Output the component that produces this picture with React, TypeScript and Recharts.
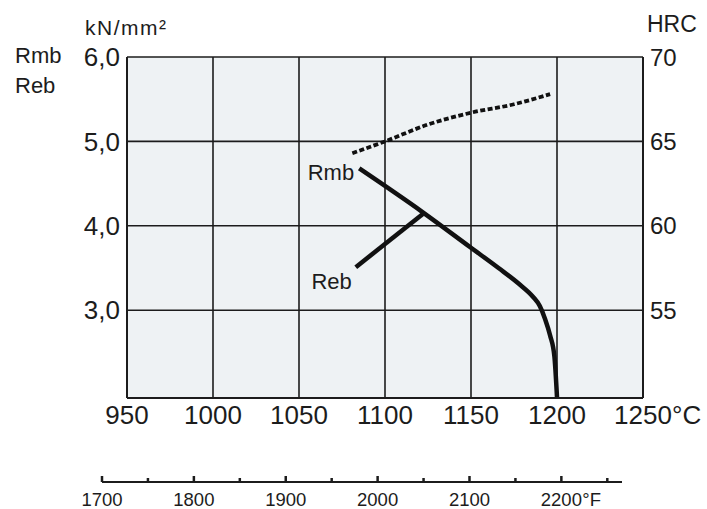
import { LineChart, Line, XAxis, YAxis, CartesianGrid } from "recharts";

const INK = "#1c1c1c";
const FONT = "'Liberation Sans', Arial, Helvetica, sans-serif";

// axis ticks
const CELSIUS_TICKS = [950, 1000, 1050, 1100, 1150, 1200, 1250];
const STRENGTH_TICKS = [3, 4, 5, 6];
const HRC_TICKS = [55, 60, 65, 70];
const FAHRENHEIT_TICKS = [1700, 1750, 1800, 1850, 1900, 1950, 2000, 2050, 2100, 2150, 2200, 2250];

// hardness HRC (dotted)
const hardness = [
  { t: 1081, hrc: 64.3 },
  { t: 1100, hrc: 65.0 },
  { t: 1125, hrc: 66.0 },
  { t: 1150, hrc: 66.7 },
  { t: 1175, hrc: 67.2 },
  { t: 1196, hrc: 67.8 },
];

// Rmb, kN/mm²
const rmb = [
  { t: 1085, v: 4.68 },
  { t: 1122, v: 4.16 },
  { t: 1150, v: 3.74 },
  { t: 1166, v: 3.5 },
  { t: 1178, v: 3.31 },
  { t: 1186, v: 3.16 },
  { t: 1190, v: 3.05 },
  { t: 1193, v: 2.9 },
  { t: 1196, v: 2.7 },
  { t: 1198.5, v: 2.45 },
  { t: 1200, v: 1.97 },
];

// Reb, kN/mm²
const reb = [
  { t: 1083, v: 3.51 },
  { t: 1122, v: 4.14 },
];

const comma = (v: number) => v.toFixed(1).replace(".", ",");

function celsiusTick(props: any) {
  const { x, y, payload } = props;
  const last = payload.value === CELSIUS_TICKS[CELSIUS_TICKS.length - 1];
  return (
    <g>
      <text x={x} y={y + 26} textAnchor="middle" fontSize={26} fill={INK} fontFamily={FONT}>
        {payload.value}
      </text>
      {last && (
        <text x={x + 29} y={y + 26} textAnchor="start" fontSize={26} fill={INK} fontFamily={FONT}>
          °C
        </text>
      )}
    </g>
  );
}

function fahrenheitTick(props: any) {
  const { x, y, payload } = props;
  const major = payload.value % 100 === 0;
  const last = payload.value === 2200;
  return (
    <g>
      <line x1={x} x2={x} y1={y - (major ? 6 : 4)} y2={y} stroke={INK} strokeWidth={2.5} />
      {major && (
        <text x={x} y={y + 24} textAnchor="middle" fontSize={18.5} fill={INK} fontFamily={FONT}>
          {payload.value}
        </text>
      )}
      {last && (
        <text x={x + 21} y={y + 24} textAnchor="start" fontSize={18.5} fill={INK} fontFamily={FONT}>
          °F
        </text>
      )}
    </g>
  );
}

const nameLabel = (name: string, dx: number, dy: number) => (p: any) =>
  p.index === 0 ? (
    <text x={p.x + dx} y={p.y + dy} textAnchor="end" fontSize={22} fill={INK} fontFamily={FONT}>
      {name}
    </text>
  ) : null;

export default function App() {
  const tickText = { fontSize: 26, fill: INK, fontFamily: FONT };
  return (
    <div style={{ position: "absolute", left: 0, top: 0, width: 707, height: 509, background: "#fff" }}>
      <LineChart width={707} height={430} margin={{ top: 57, right: 0, left: 0, bottom: 0 }} style={{ position: "absolute", left: 0, top: 0 }}>
        <CartesianGrid yAxisId="left" stroke={INK} strokeWidth={1.6} fill="#eef2f4" fillOpacity={1} />
        <XAxis
          type="number"
          dataKey="t"
          domain={[950, 1250]}
          ticks={CELSIUS_TICKS}
          interval={0}
          height={32}
          tickSize={0}
          tickMargin={0}
          tickLine={false}
          axisLine={{ stroke: INK, strokeWidth: 2 }}
          tick={celsiusTick}
          allowDataOverflow
        />
        <YAxis
          yAxisId="left"
          type="number"
          domain={[1.96, 6]}
          ticks={STRENGTH_TICKS}
          interval={0}
          width={127}
          tickSize={0}
          tickMargin={7}
          tickLine={false}
          axisLine={{ stroke: INK, strokeWidth: 2 }}
          tick={tickText}
          tickFormatter={comma}
          allowDataOverflow
        />
        <YAxis
          yAxisId="right"
          orientation="right"
          type="number"
          domain={[49.8, 70]}
          ticks={HRC_TICKS}
          interval={0}
          width={64}
          tickSize={0}
          tickMargin={7}
          tickLine={false}
          axisLine={{ stroke: INK, strokeWidth: 2 }}
          tick={{ ...tickText, fontSize: 24 }}
          allowDataOverflow
        />
        <Line
          yAxisId="right"
          data={hardness}
          dataKey="hrc"
          type="monotone"
          stroke="#111"
          strokeWidth={3.8}
          strokeDasharray="5 2.5"
          dot={false}
          isAnimationActive={false}
        />
        <Line
          yAxisId="left"
          data={reb}
          dataKey="v"
          type="linear"
          stroke="#111"
          strokeWidth={4.5}
          dot={false}
          label={nameLabel("Reb", -4, 22)}
          isAnimationActive={false}
        />
        <Line
          yAxisId="left"
          data={rmb}
          dataKey="v"
          type="monotone"
          stroke="#111"
          strokeWidth={4.5}
          dot={false}
          label={nameLabel("Rmb", -5, 12)}
          isAnimationActive={false}
        />
      </LineChart>

      <LineChart
        width={707}
        height={69}
        data={FAHRENHEIT_TICKS.map((f) => ({ f }))}
        margin={{ top: 30, right: 85, left: 102, bottom: 0 }}
        style={{ position: "absolute", left: 0, top: 440 }}
      >
        <XAxis
          type="number"
          dataKey="f"
          domain={[1700, 2266]}
          ticks={FAHRENHEIT_TICKS}
          interval={0}
          height={27}
          tickSize={0}
          tickMargin={0}
          tickLine={false}
          axisLine={{ stroke: INK, strokeWidth: 2 }}
          tick={fahrenheitTick}
        />
      </LineChart>

      <svg width={707} height={100} style={{ position: "absolute", left: 0, top: 0, pointerEvents: "none" }}>
        <g fill={INK} fontFamily={FONT}>
          <text x={85} y={35} fontSize={21} letterSpacing={1.5}>kN/mm²</text>
          <text x={15} y={63} fontSize={22}>Rmb</text>
          <text x={15} y={93} fontSize={22}>Reb</text>
          <text x={647} y={32} fontSize={23}>HRC</text>
        </g>
      </svg>
    </div>
  );
}
